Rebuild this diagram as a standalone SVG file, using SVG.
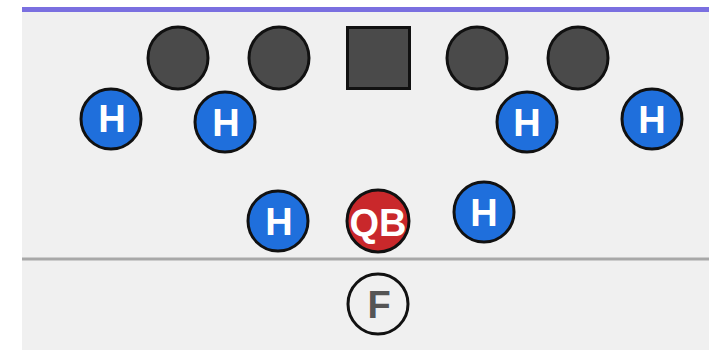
<svg xmlns="http://www.w3.org/2000/svg" width="709" height="350" viewBox="0 0 709 350">
<style>
.lineman{fill:#4a4a4a;stroke:#111;stroke-width:3}
.h{fill:#1f6fdc;stroke:#111;stroke-width:3}
.qb{fill:#c9282b;stroke:#111;stroke-width:3}
.f{fill:#f0f0f0;stroke:#111;stroke-width:3}
.lbl{font-family:"Liberation Sans",Arial,sans-serif;font-weight:bold;font-size:38px;fill:#fff;text-anchor:middle;dominant-baseline:central}
.flbl{font-family:"Liberation Sans",Arial,sans-serif;font-weight:bold;font-size:38px;fill:#555;text-anchor:middle;dominant-baseline:central}
</style>
<rect x="0" y="0" width="709" height="350" fill="#ffffff"/>
<rect x="22" y="7" width="687" height="343" fill="#f0f0f0"/>
<rect x="22" y="7" width="687" height="5" fill="#7a6fe0"/>
<g id="connectors">
<line x1="22" y1="259" x2="709" y2="259" stroke="#a8a8a8" stroke-width="3"/>
</g>
<g id="ol1"><ellipse class="lineman" cx="178" cy="58" rx="30" ry="31"/></g>
<g id="ol2"><ellipse class="lineman" cx="279" cy="58" rx="30" ry="31"/></g>
<g id="center"><rect class="lineman" x="347.5" y="27.5" width="62" height="61"/></g>
<g id="ol3"><ellipse class="lineman" cx="477" cy="58" rx="30" ry="31"/></g>
<g id="ol4"><ellipse class="lineman" cx="578" cy="58" rx="30" ry="31"/></g>
<g id="h1"><circle class="h" cx="111" cy="119" r="30"/><text class="lbl" x="112" y="119">H</text></g>
<g id="h2"><circle class="h" cx="225" cy="122" r="30"/><text class="lbl" x="226" y="123">H</text></g>
<g id="h3"><circle class="h" cx="527" cy="122" r="30"/><text class="lbl" x="527" y="123">H</text></g>
<g id="h4"><circle class="h" cx="652" cy="119" r="30"/><text class="lbl" x="652" y="120">H</text></g>
<g id="h5"><circle class="h" cx="278" cy="221" r="30"/><text class="lbl" x="279" y="222">H</text></g>
<g id="qb"><circle class="qb" cx="378" cy="221" r="31"/><text class="lbl" x="378" y="223">QB</text></g>
<g id="h6"><circle class="h" cx="484" cy="212" r="30"/><text class="lbl" x="484" y="213">H</text></g>
<g id="f"><circle class="f" cx="378" cy="304" r="30"/><text class="flbl" x="379" y="305">F</text></g>
</svg>
